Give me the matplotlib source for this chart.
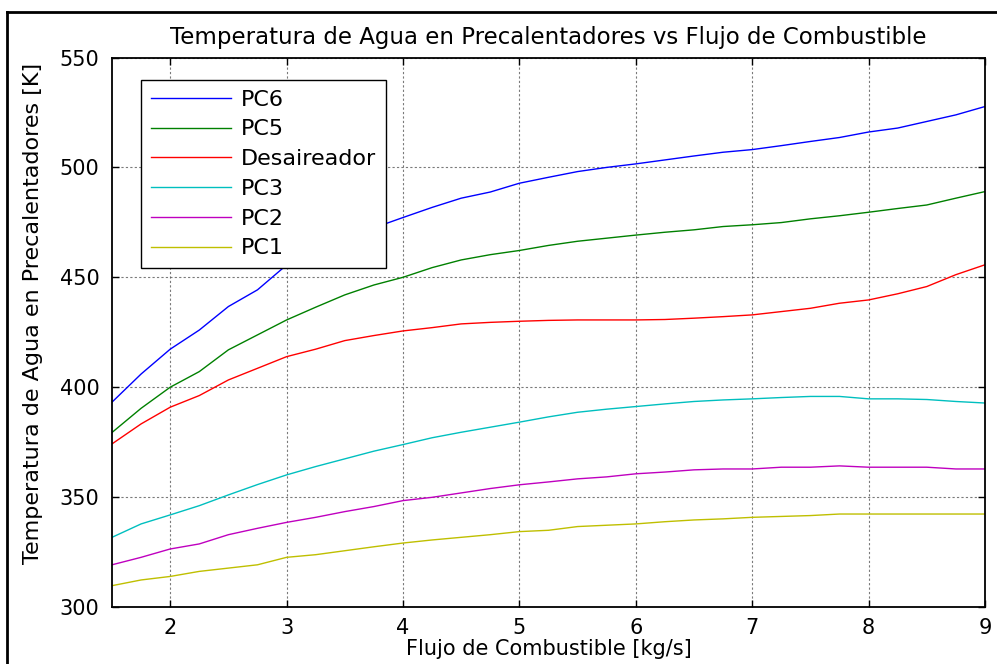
import matplotlib
matplotlib.use("Agg")
import matplotlib.pyplot as plt
from matplotlib.lines import Line2D

plt.rcParams['font.family'] = ['DejaVu Sans']

# Fuel mass flow [kg/s]
flujo = [1.5, 1.75, 2, 2.25, 2.5, 2.75, 3, 3.25, 3.5, 3.75, 4, 4.25, 4.5, 4.75,
         5, 5.25, 5.5, 5.75, 6, 6.25, 6.5, 6.75, 7, 7.25, 7.5, 7.75, 8, 8.25,
         8.5, 8.75, 9]

# Water outlet temperature of each heater [K]
pc6 = [393.2, 406, 417.3, 426, 436.7, 444.3, 455.6, 461.5, 467, 472.5, 477.2,
       481.8, 486, 488.8, 492.8, 495.5, 498.1, 500, 501.6, 503.4, 505.2, 506.9,
       508.1, 509.9, 511.8, 513.6, 516.1, 517.9, 520.9, 523.9, 527.7]
pc5 = [379.4, 390.4, 400, 407.1, 417, 423.8, 430.6, 436.4, 442, 446.5, 450,
       454.4, 457.9, 460.3, 462.2, 464.5, 466.4, 467.8, 469.2, 470.5, 471.6,
       473.1, 473.9, 474.9, 476.6, 478, 479.6, 481.3, 482.9, 486, 489]
desaireador = [374.2, 383.3, 390.9, 396.2, 403.3, 408.6, 413.9, 417.3, 421.2,
               423.5, 425.6, 427.1, 428.8, 429.5, 430, 430.4, 430.6, 430.6,
               430.6, 430.8, 431.4, 432.1, 432.9, 434.4, 435.9, 438.2, 439.7,
               442.5, 445.8, 451.2, 455.7]
pc3 = [331.7, 337.8, 341.9, 346.1, 351, 355.7, 360.1, 363.9, 367.4, 370.9,
       373.9, 377, 379.5, 381.8, 384.1, 386.5, 388.6, 390, 391.2, 392.4, 393.5,
       394.2, 394.7, 395.3, 395.8, 395.8, 394.7, 394.7, 394.4, 393.5, 392.8]
pc2 = [319.2, 322.6, 326.4, 328.7, 332.9, 335.8, 338.5, 340.8, 343.4, 345.7,
       348.4, 349.9, 351.9, 353.9, 355.6, 356.9, 358.3, 359.2, 360.6, 361.4,
       362.4, 362.8, 362.8, 363.6, 363.6, 364.2, 363.6, 363.6, 363.6, 362.8,
       362.8]
pc1 = [309.7, 312.3, 313.9, 316.2, 317.7, 319.2, 322.6, 323.8, 325.6, 327.4,
       329.1, 330.5, 331.7, 332.9, 334.3, 334.9, 336.6, 337.2, 337.8, 338.8,
       339.6, 340.1, 340.8, 341.2, 341.6, 342.3, 342.3, 342.3, 342.3, 342.3,
       342.3]

series_names = ['PC6', 'PC5', 'Desaireador', 'PC3', 'PC2', 'PC1']
series_values = [pc6, pc5, desaireador, pc3, pc2, pc1]
series_colors = ['#0000ff', '#008000', '#ff0000', '#00bfbf', '#bf00bf', '#bfbf00']

x_ticks = [2, 3, 4, 5, 6, 7, 8, 9]
y_ticks = [300, 350, 400, 450, 500, 550]

fig = plt.figure(figsize=(9.97, 6.64), dpi=100)
ax = fig.add_axes([112 / 997, 1 - 607 / 664, 873 / 997, 549.5 / 664])

for name, vals, col in zip(series_names, series_values, series_colors):
    ax.plot(flujo, vals, color=col, lw=1.0, label=name)

ax.set_xlim(1.5, 9)
ax.set_ylim(300, 550)
ax.set_xticks(x_ticks)
ax.set_yticks(y_ticks)
ax.grid(True, color='0.35', linestyle=(0, (2, 2)), linewidth=0.8, alpha=0.8)
ax.tick_params(direction='in', length=5, width=1, top=True, right=True,
               labelsize=15)
ax.tick_params(axis='x', pad=8)
ax.tick_params(axis='y', pad=9)
for sp in ax.spines.values():
    sp.set_linewidth(1.3)

ax.set_title('Temperatura de Agua en Precalentadores vs Flujo de Combustible',
             fontsize=16.5, pad=10)
ax.set_xlabel('Flujo de Combustible [kg/s]', fontsize=15)
ax.set_ylabel('Temperatura de Agua en Precalentadores [K]', fontsize=16)
ax.xaxis.set_label_coords(0.5, -0.0585)
ax.yaxis.set_label_coords(-0.079, 0.535)

leg = ax.legend(loc='upper left', bbox_to_anchor=(29 / 873, 1 - 22 / 549.5),
                borderaxespad=0, fontsize=16, fancybox=False,
                edgecolor='black', framealpha=1, handlelength=3.6,
                handletextpad=0.45, labelspacing=0.44, borderpad=0.45)
leg.get_frame().set_linewidth(1.0)

# Outer frame of the figure window
fig.add_artist(Line2D([7 / 997, 7 / 997], [-0.05, 1 - 12 / 664],
                      transform=fig.transFigure, color='black', lw=2))
fig.add_artist(Line2D([7 / 997, 1.05], [1 - 12 / 664, 1 - 12 / 664],
                      transform=fig.transFigure, color='black', lw=2))

fig.savefig('out.png', dpi=100)
